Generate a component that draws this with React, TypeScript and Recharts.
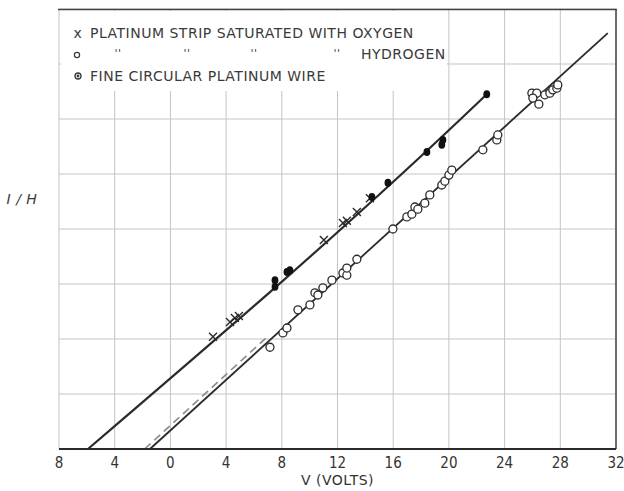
import {
  ComposedChart,
  Line,
  Scatter,
  XAxis,
  YAxis,
  CartesianGrid,
  ReferenceLine,
} from 'recharts';

// volts on the x axis, I/H on the y axis (arbitrary units, one per grid square)
const voltTicks = [-8, -4, 0, 4, 8, 12, 16, 20, 24, 28, 32];
const ihTicks = [0, 1, 2, 3, 4, 5, 6, 7, 8];

// platinum strip saturated with oxygen (crosses)
const oxygenV = [3.06, 4.28, 4.63, 4.92, 11.02, 12.39, 12.67, 13.39, 14.33];
const oxygenI = [2.04, 2.31, 2.38, 2.42, 3.8, 4.11, 4.15, 4.31, 4.56];

// platinum strip saturated with hydrogen (open circles)
const hydrogenV = [
  7.15, 8.08, 8.37, 9.16, 10.02, 10.38, 10.59, 10.95, 11.6, 12.39, 12.67, 12.67,
  13.39, 15.98, 16.98, 17.34, 17.56, 17.77, 18.27, 18.63, 19.49, 19.71, 20.0,
  20.21, 22.44, 23.44, 23.51, 25.96, 26.31, 26.03, 26.46, 26.89, 27.25, 27.46,
  27.75, 27.82,
];
const hydrogenI = [
  1.85, 2.11, 2.2, 2.53, 2.62, 2.84, 2.8, 2.93, 3.07, 3.2, 3.16, 3.29, 3.45, 4.0,
  4.22, 4.27, 4.4, 4.36, 4.47, 4.62, 4.8, 4.87, 4.98, 5.07, 5.44, 5.62, 5.71,
  6.47, 6.47, 6.38, 6.27, 6.44, 6.47, 6.53, 6.56, 6.62,
];

// fine circular platinum wire (filled dots)
const wireV = [7.51, 7.51, 8.37, 8.58, 14.47, 15.62, 18.42, 19.49, 19.57, 22.72];
const wireI = [3.07, 2.95, 3.22, 3.25, 4.58, 4.84, 5.4, 5.53, 5.62, 6.45];

// drawn straight lines
const oxygenFitV = [-5.92, 22.1, 22.72];
const oxygenFitI = [0, 6.3, 6.45];
const hydrogenFitV = [-1.47, 31.41];
const hydrogenFitI = [0, 7.56];
const hydrogenDashV = [-1.85, 7.0];
const hydrogenDashI = [0, 2.05];

const rows = (vs: number[], is: number[]) => vs.map((v, k) => ({ v, i: is[k] }));

const INK = '#2b2b2b';
const FONT = '"DejaVu Sans", "Liberation Sans", sans-serif';

const Cross = (p: any) => (
  <path
    d={`M${p.cx - 4},${p.cy - 4}L${p.cx + 4},${p.cy + 4}M${p.cx - 4},${p.cy + 4}L${p.cx + 4},${p.cy - 4}`}
    stroke={INK}
    strokeWidth={1.4}
  />
);
const Ring = (p: any) => (
  <circle cx={p.cx} cy={p.cy} r={4} fill="#fff" stroke={INK} strokeWidth={1.3} />
);
const Dot = (p: any) => <ellipse cx={p.cx} cy={p.cy} rx={3.4} ry={4} fill="#111" />;

const legendText = {
  fontFamily: FONT,
  fontSize: 14,
  letterSpacing: 0.5,
  fill: '#3a3a3a',
};

export default function App() {
  return (
    <div style={{ position: 'absolute', left: 0, top: 0, width: 624, height: 491, background: '#fff' }}>
      <ComposedChart
        width={624}
        height={491}
        margin={{ top: 9, right: 8, bottom: 12, left: 59 }}
      >
        <CartesianGrid stroke="#c4c4c4" strokeWidth={1} />
        <XAxis
          type="number"
          dataKey="v"
          domain={[-8, 32]}
          ticks={voltTicks}
          tickFormatter={(v: number) => String(Math.abs(v))}
          allowDataOverflow
          height={30}
          tickLine={false}
          axisLine={{ stroke: INK, strokeWidth: 2.2 }}
          tick={{ fill: '#333', fontSize: 15, fontFamily: '"DejaVu Sans Condensed", "DejaVu Sans", sans-serif' }}
          label={{
            value: 'V  (VOLTS)',
            position: 'bottom',
            offset: -4,
            style: { fill: '#333', fontSize: 14, fontFamily: FONT, letterSpacing: 0.5 },
          }}
        />
        <YAxis
          type="number"
          dataKey="i"
          domain={[0, 8]}
          ticks={ihTicks}
          width={0}
          tick={() => <g />}
          tickLine={false}
          axisLine={{ stroke: INK, strokeWidth: 2.2 }}
        />
        <ReferenceLine x={32} stroke="#444" strokeWidth={1.5} ifOverflow="visible" />

        <Line
          data={rows(hydrogenDashV, hydrogenDashI)}
          dataKey="i"
          type="linear"
          stroke="#8a8a8a"
          strokeWidth={1.6}
          strokeDasharray="8 5"
          dot={false}
          isAnimationActive={false}
        />
        <Line
          data={rows(hydrogenFitV, hydrogenFitI)}
          dataKey="i"
          type="linear"
          stroke={INK}
          strokeWidth={1.8}
          dot={false}
          isAnimationActive={false}
        />
        <Line
          data={rows(oxygenFitV, oxygenFitI)}
          dataKey="i"
          type="monotone"
          stroke={INK}
          strokeWidth={2.2}
          dot={false}
          isAnimationActive={false}
        />
        <Scatter data={rows(hydrogenV, hydrogenI)} dataKey="i" shape={Ring} isAnimationActive={false} />
        <Scatter data={rows(oxygenV, oxygenI)} dataKey="i" shape={Cross} isAnimationActive={false} />
        <Scatter data={rows(wireV, wireI)} dataKey="i" shape={Dot} isAnimationActive={false} />
      </ComposedChart>

      {/* key box in the upper left corner, over the grid, plus the top edge of the frame */}
      <svg
        width={624}
        height={491}
        style={{ position: 'absolute', left: 0, top: 0, pointerEvents: 'none' }}
      >
        <rect x={61} y={11} width={386} height={80} fill="#fff" />
        <line x1={58} y1={9.5} x2={617} y2={9.5} stroke="#444" strokeWidth={1.5} />
        <text x={78} y={33} dominantBaseline="central" textAnchor="middle" {...legendText}>x</text>
        <text x={90} y={33} dominantBaseline="central" {...legendText}>
          PLATINUM STRIP SATURATED WITH OXYGEN
        </text>
        <circle cx={77} cy={55} r={2.6} fill="none" stroke="#3a3a3a" strokeWidth={1.2} />
        {[118, 187, 254, 337].map((x) => (
          <text key={x} x={x} y={53} dominantBaseline="central" textAnchor="middle" {...legendText} fontSize={11}>
            ''
          </text>
        ))}
        <text x={361} y={54} dominantBaseline="central" {...legendText}>HYDROGEN</text>
        <circle cx={78} cy={76} r={3} fill="#fff" stroke="#3a3a3a" strokeWidth={1.3} />
        <circle cx={78} cy={76} r={1.4} fill="#3a3a3a" />
        <text x={90} y={76} dominantBaseline="central" {...legendText}>
          FINE CIRCULAR PLATINUM WIRE
        </text>
        <text
          x={22}
          y={199}
          dominantBaseline="central"
          textAnchor="middle"
          fontStyle="italic"
          {...legendText}
          fontSize={14}
        >
          I / H
        </text>
      </svg>
    </div>
  );
}
